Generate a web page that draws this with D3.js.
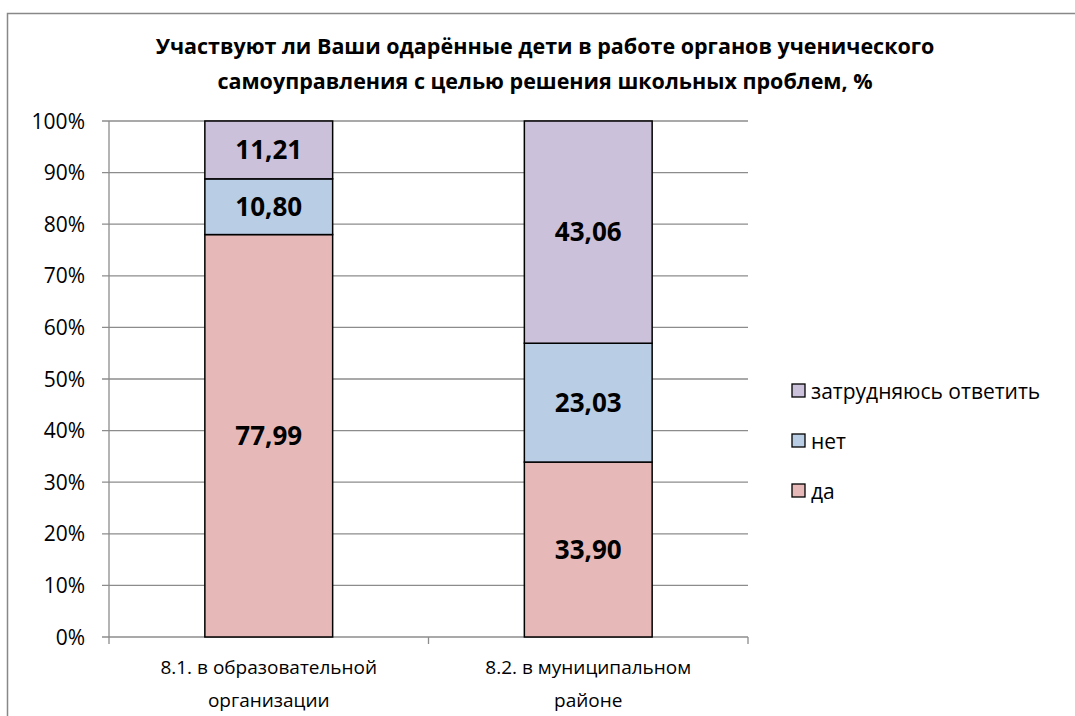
<!DOCTYPE html>
<html>
<head>
<meta charset="utf-8">
<script src="https://cdn.jsdelivr.net/npm/d3@7"></script>
<style>
  body { margin: 0; background: #fff; }
  text { font-family: "Open Sans", "Noto Sans", sans-serif; fill: #000; }
</style>
</head>
<body>
<svg id="chart"></svg>
<script>
// data
let categories = ['8.1. в образовательной организации', '8.2. в муниципальном районе'];
let categoryLines = [['8.1. в образовательной', 'организации'], ['8.2. в муниципальном', 'районе']];
let seriesNames = ['да', 'нет', 'затрудняюсь ответить'];
let daValues = [77.99, 33.90];
let netValues = [10.80, 23.03];
let hardValues = [11.21, 43.06];
let yTicks = [0, 10, 20, 30, 40, 50, 60, 70, 80, 90, 100];
let colors = ['#e6b9b8', '#b9cde5', '#ccc1da'];
let title = ['Участвуют ли Ваши одарённые дети в работе органов ученического',
             'самоуправления с целью решения школьных проблем, %'];

let config = { svg: {}, plot: {} };
config.svg.width = 1075;
config.svg.height = 716;
config.plot.x = 109;
config.plot.y = 121;
config.plot.width = 748 - 109;
config.plot.height = 637 - 121;

let svg = d3.select('svg#chart')
  .attr('width', config.svg.width)
  .attr('height', config.svg.height);

// outer chart frame
svg.append('rect')
  .attr('x', 7.5).attr('y', 13.5)
  .attr('width', 1100).attr('height', 800)
  .attr('fill', 'none').attr('stroke', '#888').attr('stroke-width', 1.5);

// title
svg.append('g').selectAll('text')
  .data(title)
  .join('text')
  .attr('x', 545)
  .attr('y', (d, i) => 54 + i * 35)
  .attr('text-anchor', 'middle')
  .style('font-weight', 700)
  .style('font-size', '21.5px')
  .text(d => d);

let plot = svg.append('g').attr('transform', translate(config.plot.x, config.plot.y));

let scale = {};
scale.x = d3.scaleBand().domain(categories).range([0, config.plot.width]).paddingInner(0.6).paddingOuter(0.3);
scale.y = d3.scaleLinear().domain([0, 100]).range([config.plot.height, 0]);

// gridlines
plot.append('g').selectAll('line')
  .data(yTicks)
  .join('line')
  .attr('x1', -7).attr('x2', config.plot.width)
  .attr('y1', d => scale.y(d)).attr('y2', d => scale.y(d))
  .attr('stroke', '#8c8c8c').attr('stroke-width', 1.3);

// y axis line
plot.append('line')
  .attr('x1', 0).attr('x2', 0).attr('y1', 0).attr('y2', config.plot.height)
  .attr('stroke', '#8c8c8c').attr('stroke-width', 1.3);

// category boundary ticks on the x axis
let step = config.plot.width / categories.length;
plot.append('g').selectAll('line')
  .data(d3.range(categories.length + 1))
  .join('line')
  .attr('x1', d => d * step).attr('x2', d => d * step)
  .attr('y1', config.plot.height).attr('y2', config.plot.height + 7)
  .attr('stroke', '#8c8c8c').attr('stroke-width', 1.3);

// y tick labels
plot.append('g').selectAll('text')
  .data(yTicks)
  .join('text')
  .attr('x', -24)
  .attr('y', d => scale.y(d))
  .attr('dy', '0.36em')
  .attr('text-anchor', 'end')
  .style('font-size', '21px')
  .text(d => d + '%');

// stack
let table = categories.map((c, i) => ({ cat: c, 'да': daValues[i], 'нет': netValues[i], 'затрудняюсь ответить': hardValues[i] }));
let stacked = d3.stack().keys(seriesNames)(table);
let total = categories.map((c, i) => daValues[i] + netValues[i] + hardValues[i]);

let groups = plot.selectAll('g.series')
  .data(stacked)
  .join('g')
  .attr('class', 'series')
  .attr('fill', (d, i) => colors[i]);

groups.selectAll('rect')
  .data(d => d)
  .join('rect')
  .attr('x', d => scale.x(d.data.cat))
  .attr('width', scale.x.bandwidth())
  .attr('y', (d, i) => scale.y(d[1] / total[i] * 100))
  .attr('height', (d, i) => scale.y(d[0] / total[i] * 100) - scale.y(d[1] / total[i] * 100))
  .attr('stroke', '#000').attr('stroke-width', 1.5);

groups.selectAll('text')
  .data(d => d)
  .join('text')
  .attr('x', d => scale.x(d.data.cat) + scale.x.bandwidth() / 2)
  .attr('y', (d, i) => scale.y((d[0] + d[1]) / 2 / total[i] * 100))
  .attr('dy', '0.36em')
  .attr('text-anchor', 'middle')
  .style('font-weight', 700)
  .style('font-size', '26px')
  .style('fill', '#000')
  .text(d => (d[1] - d[0]).toFixed(2).replace('.', ','));

// category labels
let xl = plot.append('g').selectAll('text')
  .data(categories)
  .join('text')
  .attr('x', d => scale.x(d) + scale.x.bandwidth() / 2)
  .attr('y', config.plot.height + 37)
  .attr('text-anchor', 'middle')
  .style('font-size', '19px');
xl.selectAll('tspan')
  .data((d, i) => categoryLines[i])
  .join('tspan')
  .attr('x', function() { return this.parentNode.getAttribute('x'); })
  .attr('dy', (d, i) => i === 0 ? 0 : 33)
  .text(d => d);

// legend
let legend = svg.append('g').attr('transform', translate(792, 384));
let items = legend.selectAll('g')
  .data(seriesNames.slice().reverse())
  .join('g')
  .attr('transform', (d, i) => translate(0, i * 50));
items.append('rect')
  .attr('width', 13).attr('height', 13)
  .attr('fill', d => colors[seriesNames.indexOf(d)])
  .attr('stroke', '#000').attr('stroke-width', 1.3);
items.append('text')
  .attr('x', 19).attr('y', 7)
  .attr('dy', '0.36em')
  .style('font-size', '21px')
  .text(d => d);

function translate(x, y) {
  return 'translate(' + x + ',' + y + ')';
}
</script>
</body>
</html>
